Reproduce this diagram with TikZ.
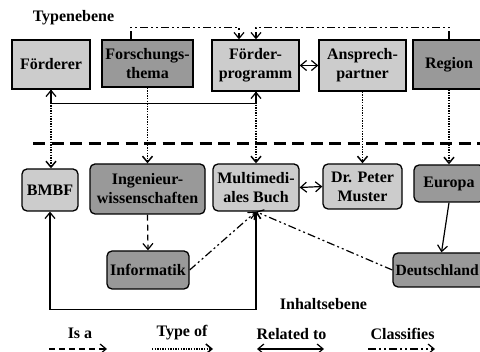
\documentclass[tikz,border=0pt]{standalone}
\usepackage{fontspec}
\setmainfont{Liberation Serif}
\usetikzlibrary{arrows.meta}
\definecolor{boxlight}{RGB}{204,204,204}
\definecolor{boxdark}{RGB}{153,153,153}
\tikzset{
  base/.style={draw, line width=1.3pt, font=\fontsize{16}{19}\selectfont\bfseries, align=center, inner sep=0pt},
  tbox/.style={base},
  cbox/.style={base, rounded corners=5pt},
  lg/.style={fill=boxlight},
  dg/.style={fill=boxdark},
  lbl/.style={font=\fontsize{16}{19}\selectfont\bfseries, inner sep=0pt},
  tipv/.tip={Straight Barb[length=6pt,width=10pt]},
  conn/.style={line width=1.2pt},
  isa/.style={conn, -tipv, dash pattern=on 6pt off 4pt},
  typeof/.style={conn, -tipv, line width=1.5pt, dash pattern=on 1.3pt off 1.3pt},
  rel/.style={conn, tipv-tipv},
  cls/.style={conn, -tipv, dash pattern=on 8pt off 3pt on 2pt off 3pt on 2pt off 3pt},
  solidarrow/.style={conn, -tipv},
}
\begin{document}
\begin{tikzpicture}[x=1pt,y=-1pt]
\useasboundingbox (0,0) rectangle (480,352);
\clip (0,0) rectangle (480,352);

% Type level
\node[lbl] (typlbl) at (73.5,18) {Typenebene};
\node[tbox,lg,minimum width=78pt,minimum height=49pt] (ford) at (51,64.5) {Förderer};
\node[tbox,dg,minimum width=91pt,minimum height=47pt] (fth) at (147.5,63.5) {Forschungs-\\thema};
\node[tbox,lg,minimum width=87pt,minimum height=51pt] (fp) at (255.5,65.5) {Förder-\\programm};
\node[tbox,lg,minimum width=87pt,minimum height=51pt] (ap) at (362.5,65.5) {Ansprech-\\partner};
\node[tbox,dg,minimum width=72pt,minimum height=49pt] (reg) at (449,64.5) {Region};

% separator
\coordinate (sepL) at (33,144);
\coordinate (sepR) at (480,144);
\draw[line width=3pt, dash pattern=on 12pt off 6.5pt] (sepL) -- (sepR);

% Content level
\node[cbox,lg,minimum width=56pt,minimum height=42pt] (bmbf) at (50,190) {BMBF};
\node[cbox,dg,minimum width=115pt,minimum height=50pt] (ing) at (147.5,189) {Ingenieur-\\wissenschaften};
\node[cbox,lg,minimum width=86pt,minimum height=47pt] (mm) at (256,187.5) {Multimedi-\\ales Buch};
\node[cbox,lg,minimum width=79pt,minimum height=45pt] (dpm) at (362.5,186.5) {Dr. Peter\\Muster};
\node[cbox,dg,minimum width=70pt,minimum height=37pt] (eur) at (449,183.5) {Europa};
\node[cbox,dg,minimum width=82pt,minimum height=38pt] (inf) at (148,270) {Informatik};
\node[cbox,dg,minimum width=97pt,minimum height=34pt,inner xsep=2.5pt,text width=92pt,align=left,font=\fontsize{15.6}{19}\selectfont\bfseries] (deu) at (441.5,270) {Deutschland};
\node[lbl] (inhlbl) at (323.5,304) {Inhaltsebene};

% classifies on type level
\draw[cls] ([xshift=-16.5pt]fth.north) -- ++(0,-12) -| ([xshift=-16.5pt]fp.north);
\draw[cls] (reg.north) -- ++(0,-12) -| ([xshift=0.5pt]fp.north);
% related on type level
\draw[rel] (fp.east) -- (ap.west);
\draw[rel] (ford.south) -- ++(0,14) -| ([xshift=0.5pt]fp.south);

% type of
\draw[typeof] (ford.south) -- ([xshift=1pt]bmbf.north);
\draw[typeof] (fth.south) -- (ing.north);
\draw[typeof] ([xshift=0.5pt]fp.south) -- (mm.north);
\draw[typeof] (ap.south) -- (dpm.north);
\draw[typeof] (reg.south) -- (eur.north);

% content relations
\draw[isa] (ing.south) -- (inf.north);
\draw[rel] (mm.east) -- (dpm.west);
\draw[solidarrow] (eur.south) -- (deu.north);
\draw[cls] (inf.east) -- (mm.south);
\draw[cls] (deu.west) -- (mm.south);
\draw[rel] (bmbf.south) -- ++(0,98) -| (mm.south);

% legend
\node[lbl] (lisa) at (80,333) {Is a};
\node[lbl] (ltyp) at (182,333) {Type of};
\node[lbl] (lrel) at (291.5,334) {Related to};
\node[lbl] (lcls) at (402.5,334) {Classifies};
\coordinate (a1) at (49,349); \coordinate (a2) at (107,349);
\coordinate (b1) at (152,349); \coordinate (b2) at (213,349);
\coordinate (c1) at (257,349); \coordinate (c2) at (324,349);
\coordinate (d1) at (368,349); \coordinate (d2) at (435,349);
\draw[isa] (a1) -- (a2);
\draw[typeof] (b1) -- (b2);
\draw[rel] (c1) -- (c2);
\draw[cls] (d1) -- (d2);
\end{tikzpicture}
\end{document}
